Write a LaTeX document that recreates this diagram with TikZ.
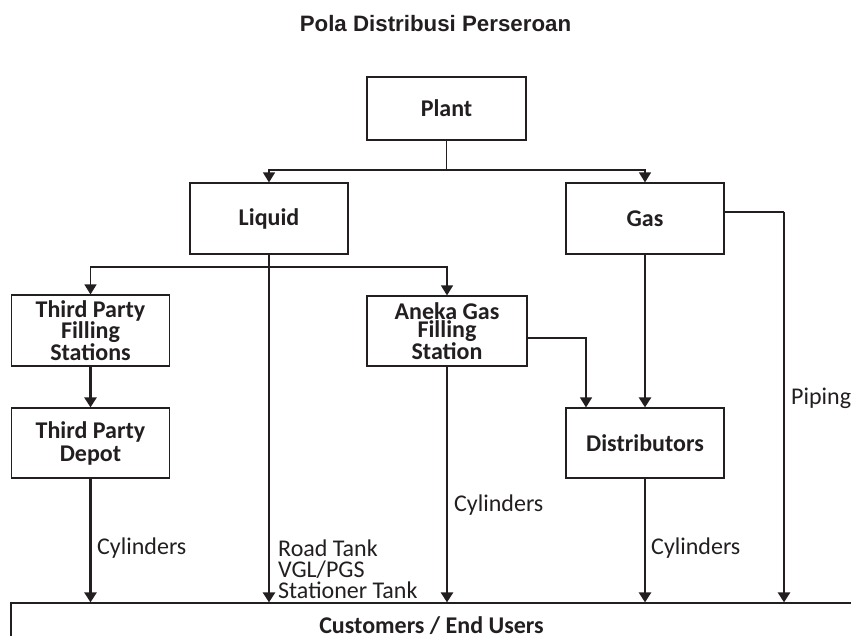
\documentclass[tikz,border=0pt]{standalone}
\usepackage{fontspec}
\setmainfont{Carlito}
\newfontfamily\titlefont{Liberation Sans}
\usetikzlibrary{arrows.meta}
\definecolor{ink}{HTML}{231F20}
\begin{document}
\begin{tikzpicture}[x=1pt,y=-1pt,
  box/.style={draw=ink,line width=1.2pt,fill=white,minimum width=158pt,minimum height=71pt,inner sep=0pt,
    font=\fontsize{24}{18}\selectfont\bfseries,align=center,text=ink},
  thin/.style={draw=ink,line width=1.4pt},
  fat/.style={draw=ink,line width=2.6pt},
  tip/.style={-{Triangle[width=12pt,length=10pt]}},
  lbl/.style={font=\fontsize{24}{21}\selectfont,text=ink,anchor=west,align=left,inner sep=0pt}]
\useasboundingbox (0,0) rectangle (851,635);
\clip (0,0) rectangle (851,635);
\node[font=\titlefont\fontsize{22.3}{26}\selectfont\bfseries,text=ink] (title) at (435.5,24) {Pola Distribusi Perseroan};
\node[box,minimum height=63pt,minimum width=159pt] (plant) at (446.5,108.5) {Plant};
\node[box] (liquid) at (269,218.5) {Liquid};
\node[box] (gas) at (645,218.5) {Gas};
\node[box] (tpfs) at (90.5,330.5) {Third Party\\Filling\\Stations};
\node[box,minimum width=160pt,minimum height=70pt] (aneka) at (447,331) {Aneka Gas\\Filling\\Station};
\node[box,minimum height=70pt,font=\fontsize{24}{23}\selectfont\bfseries] (depot) at (90.5,443) {Third Party\\Depot};
\node[box,minimum height=70pt] (dist) at (645,443) {Distributors};
\node[draw=ink,line width=1.2pt,fill=white,minimum width=841pt,minimum height=48pt,inner sep=0pt,
  font=\fontsize{24}{26}\selectfont\bfseries,text=ink] (cust) at (431.5,627) {\raisebox{4pt}{Customers / End Users}};
% plant to liquid / gas
\coordinate (j1) at (446.5,170);
\draw[thin] (plant.south) -- (j1);
\draw[thin,tip] (j1) -| (liquid.north);
\draw[thin,tip] (j1) -| (gas.north);
% liquid trunk
\draw[fat,tip] (liquid.south) -- (liquid.south |- cust.north);
\coordinate (j2) at (269,267);
\draw[thin,tip] (j2) -| (tpfs.north);
\draw[thin,tip] (j2) -| (aneka.north);
% left column
\draw[fat,tip] (tpfs.south) -- (depot.north);
\draw[fat,tip] (depot.south) -- (depot.south |- cust.north);
% aneka
\coordinate (a1) at ([yshift=-7pt]aneka.east);
\coordinate (d1) at ([xshift=-59pt]dist.north);
\draw[thin,tip] (a1) -| (d1);
\draw[fat,tip] (aneka.south) -- (aneka.south |- cust.north);
% gas
\draw[fat,tip] (gas.south) -- (dist.north);
\coordinate (g1) at ([yshift=6.5pt]gas.east);
\coordinate (g2) at (784,212);
\draw[thin] (g1) -- (g2);
\draw[fat,tip] (g2) -- (g2 |- cust.north);
\draw[fat,tip] (dist.south) -- (dist.south |- cust.north);
% labels
\node[lbl] (l1) at (97,548) {Cylinders};
\node[lbl] (l2) at (278,569) {Road Tank\\VGL/PGS\\Stationer Tank};
\node[lbl] (l3) at (454,505) {Cylinders};
\node[lbl] (l4) at (651,548) {Cylinders};
\node[lbl] (l5) at (791,398) {Piping};
\end{tikzpicture}
\end{document}
